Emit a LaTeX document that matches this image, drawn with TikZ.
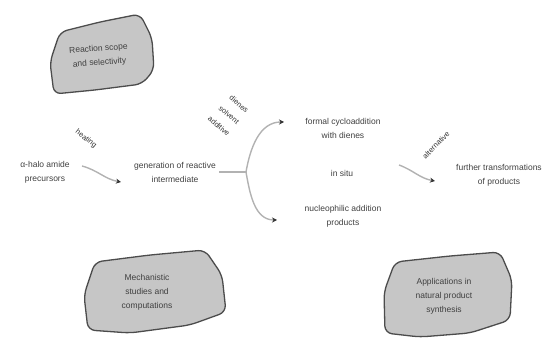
\documentclass[tikz,border=0pt]{standalone}
\usepackage{fontspec}
\setmainfont{Liberation Sans}
\usetikzlibrary{arrows.meta}
\begin{document}
\begin{tikzpicture}[x=1pt,y=-1pt,font=\fontsize{8.5}{14}\selectfont,
    txt/.style={align=center,text=black!75},
    blob/.style={fill=gray!45,draw=gray!60!black,line width=1.3pt,rounded corners=7pt},
    arr/.style={draw=gray!60,line width=1.4pt,-{Stealth[black!80,length=5pt,width=5pt]}},
    lbl/.style={font=\fontsize{7.5}{8}\selectfont,text=black!80,inner sep=1pt}]
    \useasboundingbox (0,0) rectangle (555,339);
    % clouds
    \draw[blob] (60,32) -- (100,22) -- (140,14) -- (152,38) -- (154,70) -- (142,84)
        -- (95,90) -- (54,94) -- (50,62) -- cycle;
    \node[txt,rotate=4] (scope) at (99,56) {Reaction scope\\and selectivity};
    \draw[blob] (95,262) -- (150,255) -- (205,250) -- (222,275) -- (226,312) -- (190,325)
        -- (130,333) -- (88,330) -- (84,295) -- cycle;
    \node[txt] (mech) at (147,292) {Mechanistic\\studies and\\computations};
    \draw[blob] (395,262) -- (450,256) -- (500,252) -- (512,280) -- (510,320) -- (470,333)
        -- (420,337) -- (385,333) -- (384,292) -- cycle;
    \node[txt] (appl) at (444,296) {Applications in\\natural product\\synthesis};
    % texts
    \node[txt] (pre) at (45,172) {α-halo amide\\precursors};
    \node[txt] (mid) at (175,172) {generation of reactive\\intermediate};
    \node[txt] (top) at (343,128) {formal cycloaddition\\with dienes};
    \node[txt] (situ) at (342,173) {in situ};
    \node[txt] (bot) at (343,216) {nucleophilic addition\\products};
    \node[txt] (rel) at (499,175) {further transformations\\of products};
    % arrow labels
    \node[lbl,rotate=-38] (heat) at (86,139) {heating};
    \node[lbl,rotate=-40] (c1) at (239,104) {dienes};
    \node[lbl,rotate=-40] (c2) at (229,115) {solvent};
    \node[lbl,rotate=-40] (c3) at (219,126) {additive};
    \node[lbl,rotate=45] (other) at (436,145) {alternative};
    % arrows
    \coordinate (l1) at (82,166);
    \coordinate (l2) at (121,182);
    \coordinate (br) at (246,172);
    \coordinate (t2) at (284,122);
    \coordinate (b2) at (277,220);
    \coordinate (r1) at (399,165);
    \coordinate (r2) at (435,181);
    \draw[arr] (l1) to[out=-15,in=170] (l2);
    \draw[draw=gray!60,line width=1.4pt] (mid.east) -- (br);
    \draw[arr] (br) to[out=80,in=180] (t2);
    \draw[arr] (br) to[out=-80,in=180] (b2);
    \draw[arr] (r1) to[out=-20,in=170] (r2);
\end{tikzpicture}
\end{document}
